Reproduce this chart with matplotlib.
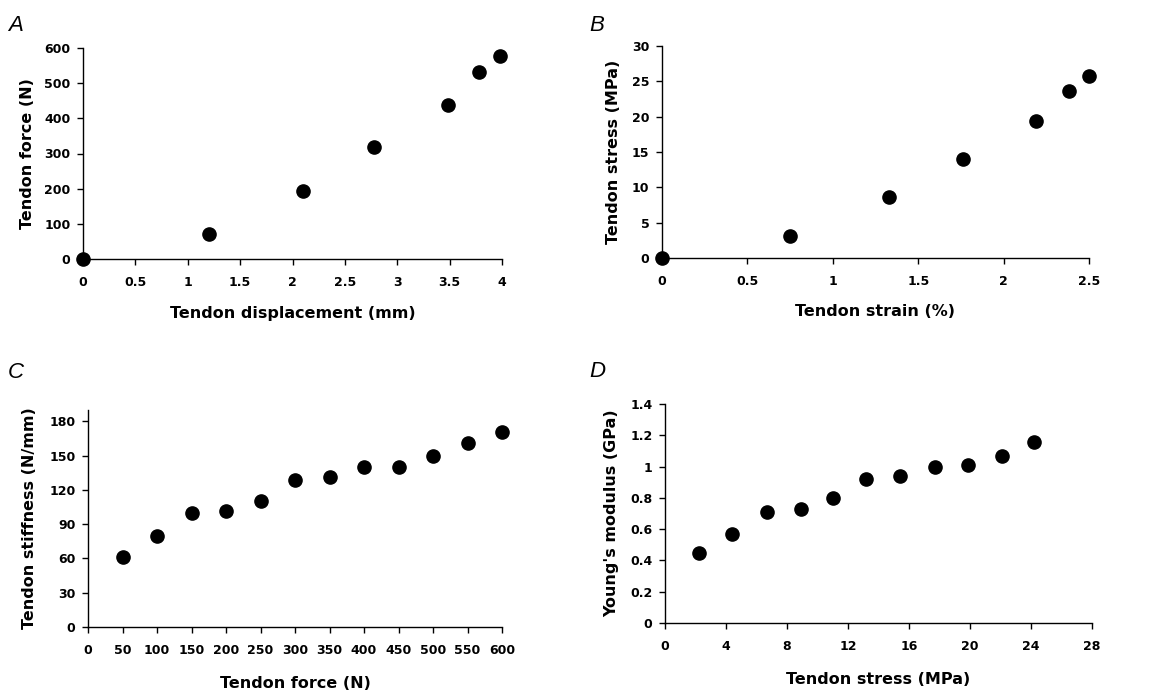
import matplotlib
matplotlib.use("Agg")
import matplotlib.pyplot as plt
import matplotlib.ticker as mtick

plt.rcParams["font.family"] = ["DejaVu Sans"]

# Panel A: force vs displacement
disp_mm = [0, 1.2, 2.1, 2.78, 3.48, 3.78, 3.98]
force_n = [0, 71, 193, 318, 439, 532, 577]

# Panel B: stress vs strain
strain_pct = [0, 0.75, 1.33, 1.76, 2.19, 2.38, 2.5]
stress_mpa = [0, 3.1, 8.6, 14.0, 19.4, 23.6, 25.8]

# Panel C: stiffness vs force
force_levels = [50, 100, 150, 200, 250, 300, 350, 400, 450, 500, 550, 600]
stiffness = [61, 80, 100, 102, 110, 129, 131, 140, 140, 150, 161, 171]

# Panel D: Young's modulus vs stress
stress_levels = [2.2, 4.4, 6.7, 8.9, 11.0, 13.2, 15.4, 17.7, 19.9, 22.1, 24.2]
modulus_gpa = [0.45, 0.57, 0.71, 0.73, 0.80, 0.92, 0.94, 1.00, 1.01, 1.07, 1.155]

W, H = 1162, 692
fig = plt.figure(figsize=(W / 100, H / 100), dpi=100)


def make_axes(left, right, top, bottom):
    return fig.add_axes([left / W, 1 - bottom / H, (right - left) / W, (bottom - top) / H])


panels = [
    # letter, box(l, r, t, b), x, y, xlim, xticks, ylim, yticks, xlabel, ylabel, letter pos, ylabel x, xlabel y
    ("A", (83, 502, 48, 259), disp_mm, force_n, (0, 4), [0, 0.5, 1, 1.5, 2, 2.5, 3, 3.5, 4],
     (0, 600), range(0, 601, 100), "Tendon displacement (mm)", "Tendon force (N)", (8, 31), 27, 313),
    ("B", (662, 1089, 46, 258), strain_pct, stress_mpa, (0, 2.5), [0, 0.5, 1, 1.5, 2, 2.5],
     (0, 30), range(0, 31, 5), "Tendon strain (%)", "Tendon stress (MPa)", (589, 31), 613, 312),
    ("C", (88, 502, 410, 627), force_levels, stiffness, (0, 600), range(0, 601, 50),
     (0, 190), range(0, 181, 30), "Tendon force (N)", "Tendon stiffness (N/mm)", (8, 378), 30, 683),
    ("D", (665, 1092, 404, 623), stress_levels, modulus_gpa, (0, 28), range(0, 29, 4),
     (0, 1.4), [0, 0.2, 0.4, 0.6, 0.8, 1, 1.2, 1.4], "Tendon stress (MPa)", "Young's modulus (GPa)",
     (589, 377), 612, 680),
]

for letter, box, xs, ys, xlim, xticks, ylim, yticks, xlabel, ylabel, lpos, ylx, xly in panels:
    ax = make_axes(*box)
    ax.plot(xs, ys, "o", color="black", markersize=9.5, clip_on=False, zorder=3)
    ax.set_xlim(*xlim)
    ax.set_ylim(*ylim)
    ax.set_xticks(list(xticks))
    ax.set_yticks(list(yticks))
    ax.xaxis.set_major_formatter(mtick.FormatStrFormatter("%g"))
    ax.yaxis.set_major_formatter(mtick.FormatStrFormatter("%g"))
    for side in ("top", "right"):
        ax.spines[side].set_visible(False)
    for side in ("left", "bottom"):
        ax.spines[side].set_linewidth(1.0)
    ax.tick_params(direction="out", length=4, width=1, labelsize=9)
    ax.tick_params(axis="x", pad=8)
    ax.tick_params(axis="y", pad=5)
    for lab in ax.get_xticklabels() + ax.get_yticklabels():
        lab.set_fontweight("bold")
    fig.text(ylx / W, 1 - ((box[2] + box[3]) / 2) / H, ylabel, rotation=90,
             ha="center", va="center", fontsize=11.5, fontweight="bold")
    fig.text(((box[0] + box[1]) / 2) / W, 1 - xly / H, xlabel,
             ha="center", va="center", fontsize=11.5, fontweight="bold")
    fig.text(lpos[0] / W, 1 - lpos[1] / H, letter, fontsize=16, style="italic",
             family=["Liberation Sans"], ha="left", va="baseline")

fig.savefig("out.png", dpi=100, facecolor="white")
